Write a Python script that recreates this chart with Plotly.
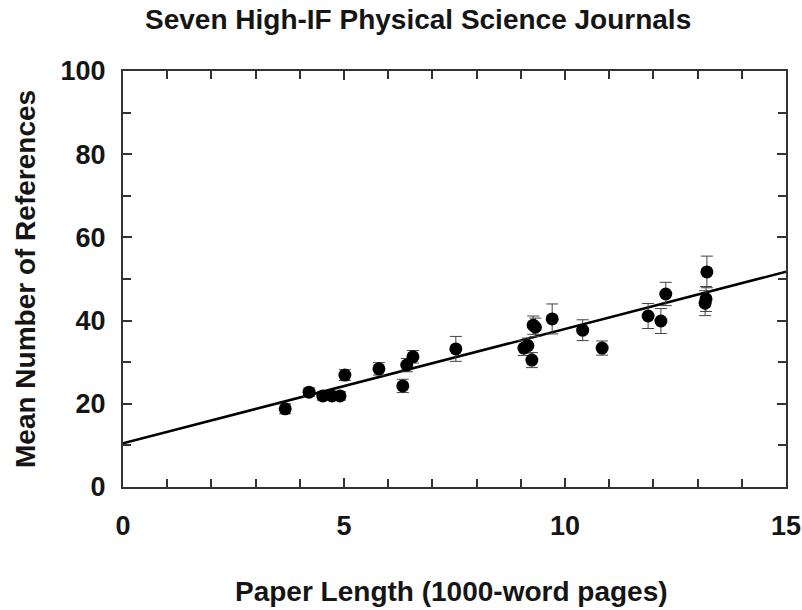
import plotly.graph_objects as go
import numpy as np

# Data
paper_length = [3.67, 4.21, 4.52, 4.73, 4.91, 5.02, 5.79, 6.33, 6.42, 6.56, 7.53,
                9.07, 9.16, 9.25, 9.28, 9.33, 9.71, 10.40, 10.84, 11.88, 12.17,
                12.28, 13.17, 13.19, 13.21]
mean_refs = [18.8, 22.8, 21.9, 21.9, 21.9, 26.9, 28.4, 24.3, 29.3, 31.3, 33.2,
             33.4, 34.0, 30.5, 38.9, 38.4, 40.4, 37.7, 33.4, 41.1, 39.9,
             46.4, 44.2, 45.2, 51.7]
ref_err = [1.2, 1.0, 1.0, 1.0, 1.0, 1.3, 1.5, 1.6, 1.6, 1.5, 3.0,
           1.8, 1.8, 1.8, 2.2, 2.2, 3.6, 2.5, 1.7, 3.0, 3.0,
           2.8, 3.0, 3.0, 3.8]
fit_intercept = 10.5
fit_slope = 2.75
fit_x = [0, 15]
fit_y = [fit_intercept + fit_slope * v for v in fit_x]

title = "Seven High-IF Physical Science Journals"
x_title = "Paper Length (1000-word pages)"
y_title = "Mean Number of References"

FONT = "Liberation Sans"
TXT = "#151515"

fig = go.Figure()
fig.add_trace(go.Scatter(
    x=fit_x, y=fit_y, mode="lines",
    line=dict(color="black", width=2.5), showlegend=False, hoverinfo="skip"))
fig.add_trace(go.Scatter(
    x=paper_length, y=mean_refs, mode="markers",
    marker=dict(color="black", size=13),
    error_y=dict(type="data", array=ref_err, color="#444444", thickness=1, width=6),
    showlegend=False))

axis_common = dict(
    showgrid=False, zeroline=False, showline=True, linecolor="#333333", linewidth=2,
    mirror="allticks", ticks="inside", ticklen=9, tickwidth=1.5, tickcolor="#333333",
    tickfont=dict(family=FONT, size=27, color=TXT, weight="bold"),
    automargin=False,
)

fig.update_layout(
    width=802, height=610,
    margin=dict(l=123, r=16, t=71, b=123),
    paper_bgcolor="white", plot_bgcolor="white",
    xaxis=dict(range=[0, 15], tickvals=[0, 5, 10, 15], ticklabelstandoff=14,
               minor=dict(dtick=1, ticks="inside", ticklen=8, tickcolor="#333333", tickwidth=1.5),
               **axis_common),
    yaxis=dict(range=[0, 100], tickvals=[0, 20, 40, 60, 80, 100], ticklabelstandoff=10,
               minor=dict(dtick=10, ticks="inside", ticklen=8, tickcolor="#333333", tickwidth=1.5),
               **axis_common),
    annotations=[
        dict(text=title, xref="paper", yref="paper", x=0.445, y=1.1226,
             xanchor="center", yanchor="middle", showarrow=False,
             font=dict(family=FONT, size=28, color=TXT, weight="bold")),
        dict(text=x_title, xref="paper", yref="paper", x=0.496, y=-0.2524,
             xanchor="center", yanchor="middle", showarrow=False,
             font=dict(family=FONT, size=28, color=TXT, weight="bold")),
        dict(text=y_title, xref="paper", yref="paper", x=-0.1478, y=0.5,
             xanchor="center", yanchor="middle", showarrow=False, textangle=-90,
             font=dict(family=FONT, size=28, color=TXT, weight="bold")),
    ],
)

fig.write_html("out.html")
